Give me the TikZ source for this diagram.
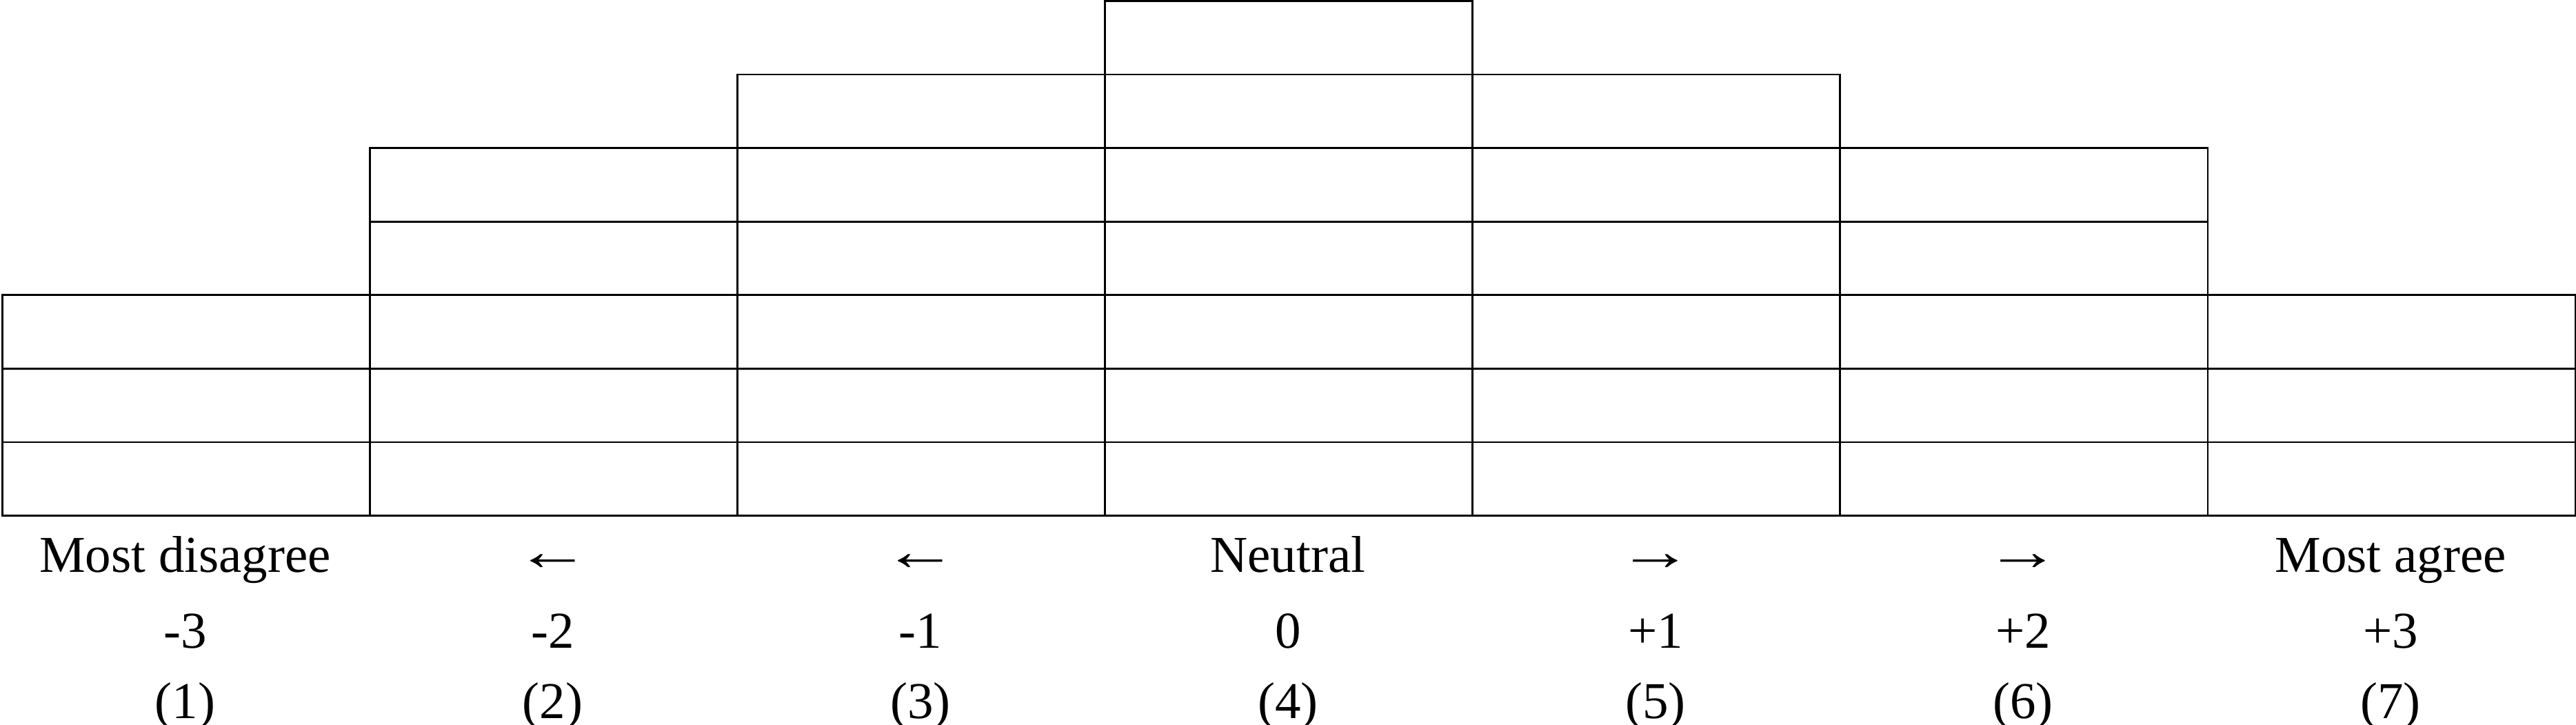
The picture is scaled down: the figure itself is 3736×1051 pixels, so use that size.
\documentclass[tikz,border=0pt]{standalone}
\usepackage{fontspec}
\setmainfont{Liberation Serif}
\begin{document}
\begin{tikzpicture}[x=0.1pt,y=-0.1pt,
  cell/.style={draw=black,line width=0.28pt,minimum width=53.31pt,minimum height=10.66pt,inner sep=0pt,anchor=south west},
  lab/.style={anchor=base,inner sep=0pt,font=\fontsize{7.5pt}{8pt}\selectfont}]
\useasboundingbox (0,0) rectangle (3736,1051);
\foreach \c/\h in {0/3,1/5,2/6,3/7,4/6,5/5,6/3}{
  \foreach \r in {1,...,\h}{
    \node[cell] (cell-\c-\r) at ({2+533.1*\c},{749-106.6*(\r-1)}) {};
  }
}
\foreach \c/\a/\ya/\b/\n in {0/Most disagree/830/-3/1,1/\scalebox{1.45}[1.07]{←}/827/-2/2,2/\scalebox{1.45}[1.07]{←}/827/-1/3,3/Neutral/830/0/4,4/\scalebox{1.45}[1.07]{→}/827/+1/5,5/\scalebox{1.45}[1.07]{→}/827/+2/6,6/Most agree/830/+3/7}{
  \node[lab] (top-\n) at ({2+533.1*\c+266.55},\ya) {\a};
  \node[lab] (num-\n) at ({2+533.1*\c+266.55},940) {\b};
  \node[lab] (idx-\n) at ({2+533.1*\c+266.55},1042) {(\n)};
}
\end{tikzpicture}
\end{document}
